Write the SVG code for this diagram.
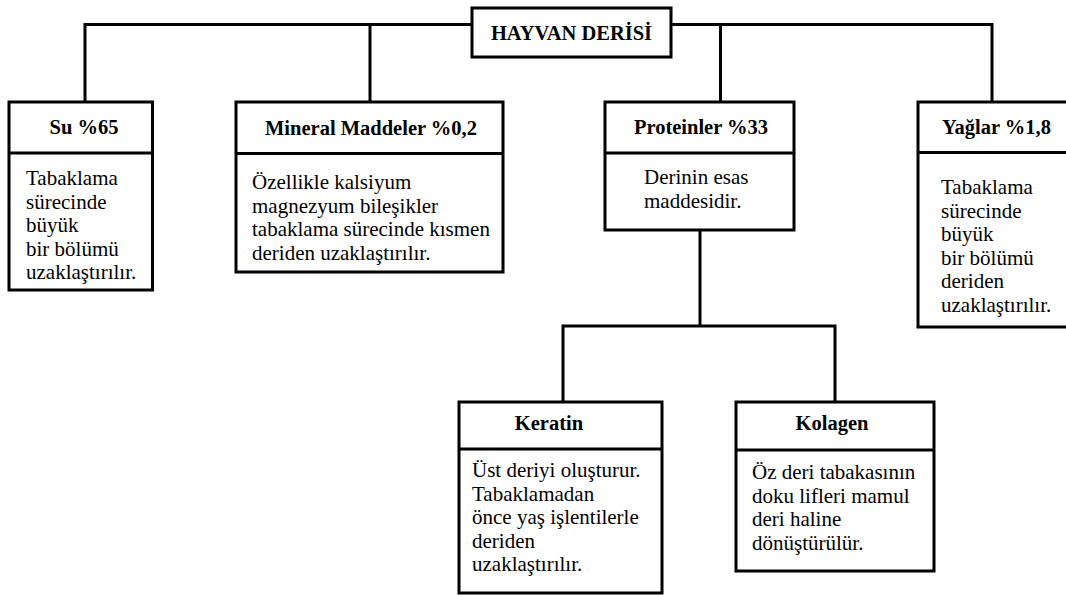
<svg xmlns="http://www.w3.org/2000/svg" width="1066" height="595" viewBox="0 0 1066 595">
<style>
.box{fill:#fff;stroke:#000;stroke-width:3}
.div{stroke:#000;stroke-width:3}
.conn{fill:none;stroke:#000;stroke-width:3}
.h{font-weight:bold;font-size:20.5px;fill:#000;text-anchor:middle}
.b{font-size:21px;fill:#000}
</style>
<rect width="1066" height="595" fill="#fff"/>
<g id="connectors">
<path class="conn" d="M85,102 V24.5 H992 V102"/>
<path class="conn" d="M370,24.5 V102"/>
<path class="conn" d="M720.5,24.5 V102"/>
<path class="conn" d="M700,230 V326"/>
<path class="conn" d="M563,402 V326 H835 V402"/>
</g>
<g font-family="Liberation Serif, Tinos, DejaVu Serif, serif">
<g id="hayvan-derisi">
<rect class="box" x="472" y="8" width="199" height="49"/>
<text class="h" x="571.5" y="40">HAYVAN DERİSİ</text>
</g>
<g id="su">
<rect class="box" x="9" y="102" width="143.5" height="188"/>
<line class="div" x1="9" y1="153" x2="152.5" y2="153"/>
<text class="h" x="84" y="134">Su %65</text>
<text class="b" x="26" y="185">Tabaklama</text>
<text class="b" x="26" y="208.6">sürecinde</text>
<text class="b" x="26" y="232.2">büyük</text>
<text class="b" x="26" y="255.8">bir bölümü</text>
<text class="b" x="26" y="279.4">uzaklaştırılır.</text>
</g>
<g id="mineral">
<rect class="box" x="236" y="102" width="267" height="170"/>
<line class="div" x1="236" y1="153.5" x2="503" y2="153.5"/>
<text class="h" x="371" y="135">Mineral Maddeler %0,2</text>
<text class="b" x="252" y="189">Özellikle kalsiyum</text>
<text class="b" x="252" y="212.6">magnezyum bileşikler</text>
<text class="b" x="252" y="236.2">tabaklama sürecinde kısmen</text>
<text class="b" x="252" y="259.8">deriden uzaklaştırılır.</text>
</g>
<g id="proteinler">
<rect class="box" x="605" y="102" width="189" height="128"/>
<line class="div" x1="605" y1="153" x2="794" y2="153"/>
<text class="h" x="701" y="134">Proteinler %33</text>
<text class="b" x="644" y="184">Derinin esas</text>
<text class="b" x="644" y="207.6">maddesidir.</text>
</g>
<g id="yaglar">
<rect class="box" x="918" y="102" width="156" height="225"/>
<line class="div" x1="918" y1="152.5" x2="1074" y2="152.5"/>
<text class="h" x="996.5" y="134">Yağlar %1,8</text>
<text class="b" x="941" y="194">Tabaklama</text>
<text class="b" x="941" y="217.6">sürecinde</text>
<text class="b" x="941" y="241.2">büyük</text>
<text class="b" x="941" y="264.8">bir bölümü</text>
<text class="b" x="941" y="288.4">deriden</text>
<text class="b" x="941" y="312">uzaklaştırılır.</text>
</g>
<g id="keratin">
<rect class="box" x="459" y="402" width="203" height="191"/>
<line class="div" x1="459" y1="449" x2="662" y2="449"/>
<text class="h" x="549" y="430">Keratin</text>
<text class="b" x="472" y="477">Üst deriyi oluşturur.</text>
<text class="b" x="472" y="500.6">Tabaklamadan</text>
<text class="b" x="472" y="524.2">önce yaş işlentilerle</text>
<text class="b" x="472" y="547.8">deriden</text>
<text class="b" x="472" y="571.4">uzaklaştırılır.</text>
</g>
<g id="kolagen">
<rect class="box" x="736" y="402" width="198" height="169"/>
<line class="div" x1="736" y1="450" x2="934" y2="450"/>
<text class="h" x="832" y="430">Kolagen</text>
<text class="b" x="752" y="479">Öz deri tabakasının</text>
<text class="b" x="752" y="502.6">doku lifleri mamul</text>
<text class="b" x="752" y="526.2">deri haline</text>
<text class="b" x="752" y="549.8">dönüştürülür.</text>
</g>
</g>
</svg>
